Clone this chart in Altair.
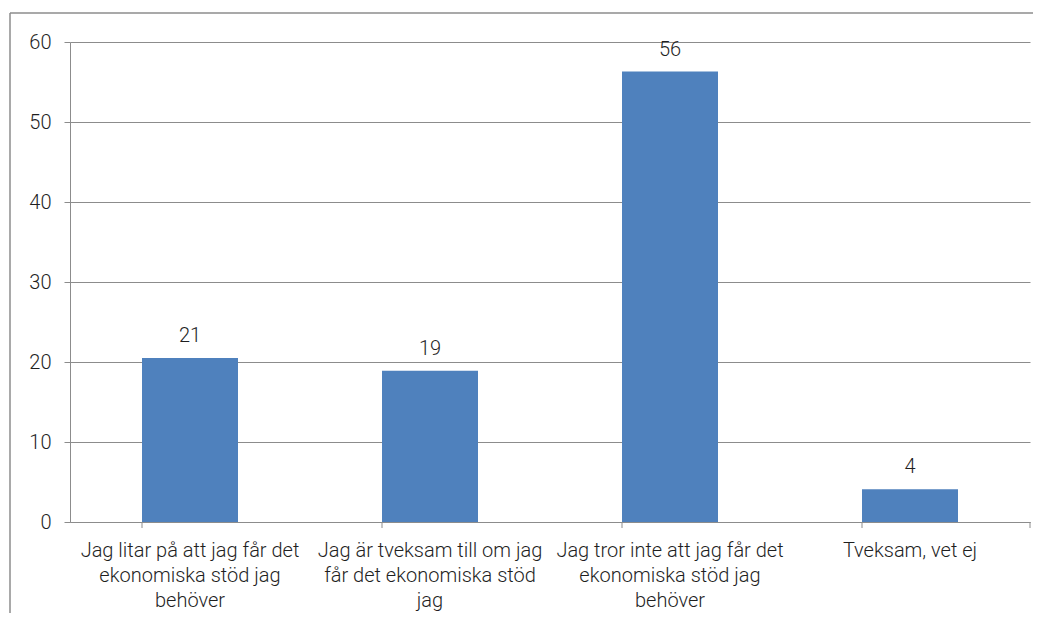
import altair as alt
import pandas as pd

categories = [
    "Jag litar på att jag får det ekonomiska stöd jag behöver",
    "Jag är tveksam till om jag får det ekonomiska stöd jag",
    "Jag tror inte att jag får det ekonomiska stöd jag behöver",
    "Tveksam, vet ej",
]
label_lines = [
    "Jag litar på att jag får det|ekonomiska stöd jag|behöver",
    "Jag är tveksam till om jag|får det ekonomiska stöd|jag",
    "Jag tror inte att jag får det|ekonomiska stöd jag|behöver",
    "Tveksam, vet ej",
]
values = [20.5, 18.9, 56.3, 4.1]
value_labels = ["21", "19", "56", "4"]

FONT = "Roboto"
FS = 20
W, H = 960, 480
GRAY = "#8c8c8c"
TXT = "#1f1f1f"

df = pd.DataFrame({
    "cat": categories,
    "lab": label_lines,
    "val": values,
    "txt": value_labels,
})

label_map = "{" + ", ".join(
    f"{c!r}: {l!r}" for c, l in zip(categories, label_lines)
) + "}"

x_enc = alt.X(
    "cat:N",
    sort=categories,
    scale=alt.Scale(paddingInner=0.6, paddingOuter=0.3),
    axis=alt.Axis(
        title=None,
        labelAngle=0,
        ticks=False,
        tickSize=0,
        domain=True,
        domainColor=GRAY,
        domainWidth=1,
        labelPadding=18,
        labelFont=FONT,
        labelFontSize=FS,
        labelFontWeight=300,
        labelColor=TXT,
        labelLineHeight=25,
        labelLimit=300,
        labelExpr=f"split({label_map}[datum.value], '|')",
    ),
)

y_enc = alt.Y(
    "val:Q",
    scale=alt.Scale(domain=[0, 60]),
    axis=alt.Axis(
        title=None,
        values=[0, 10, 20, 30, 40, 50, 60],
        grid=True,
        gridColor=GRAY,
        gridWidth=1,
        domainColor=GRAY,
        tickColor=GRAY,
        tickSize=6,
        labelPadding=13,
        labelFont=FONT,
        labelFontSize=FS,
        labelFontWeight=300,
        labelColor=TXT,
    ),
)

bars = alt.Chart(df).mark_bar(color="#4F81BD").encode(x=x_enc, y=y_enc)

texts = alt.Chart(df).mark_text(
    font=FONT, fontSize=FS, fontWeight=300, color=TXT, baseline="alphabetic", dy=-16
).encode(
    x=alt.X("cat:N", sort=categories),
    y=alt.Y("val:Q"),
    text="txt:N",
)

xticks = alt.Chart(df).mark_rule(color=GRAY).encode(
    x=alt.X("cat:N", sort=categories, bandPosition=0),
    y=alt.value(H),
    y2=alt.value(H + 6),
)
last_tick = alt.Chart(df.head(1)).mark_rule(color=GRAY).encode(
    x=alt.value(W), y=alt.value(H), y2=alt.value(H + 6)
)

border_left = alt.Chart(df.head(1)).mark_rule(color=GRAY, strokeWidth=1.5, clip=False).encode(
    x=alt.value(-60), y=alt.value(-29), y2=alt.value(H + 200)
)
border_top = alt.Chart(df.head(1)).mark_rule(color=GRAY, strokeWidth=1.5, clip=False).encode(
    x=alt.value(-60), x2=alt.value(W + 200), y=alt.value(-29)
)

chart = alt.layer(bars, texts, xticks, last_tick, border_left, border_top).properties(
    width=W,
    height=H,
    autosize=alt.AutoSizeParams(type="none"),
    padding={"left": 62, "top": 34, "right": 3, "bottom": 91},
).configure(background="white").configure_view(strokeWidth=0, stroke="transparent")

chart.save("out.html", embed_options={"renderer": "svg", "actions": False})
